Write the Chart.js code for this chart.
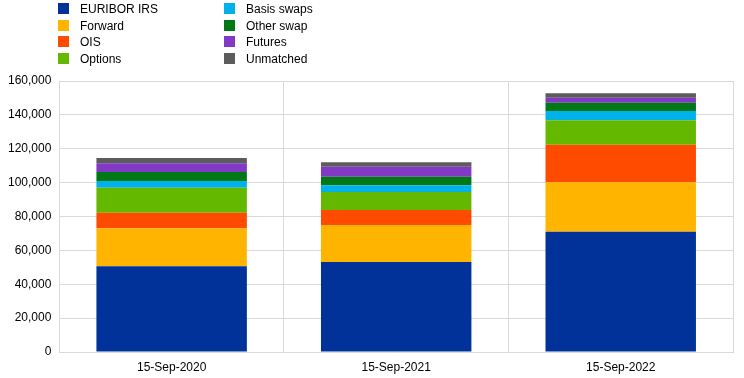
<!DOCTYPE html>
<html><head><meta charset="utf-8">
<script src="https://cdn.jsdelivr.net/npm/chart.js@4"></script>
<style>
html,body{margin:0;padding:0;background:#fff;}
#wrap{position:relative;width:744px;height:378px;font-family:"Liberation Sans",Arial,sans-serif;}
#legend{position:absolute;left:58px;top:1px;font-size:12px;color:#000;}
.li{position:absolute;white-space:nowrap;height:16px;line-height:16px;}
.li span.b{position:absolute;left:0;top:2px;width:11px;height:11px;}
.li span.t{position:absolute;left:22px;top:0;}
canvas{position:absolute;left:0;top:0;}
</style></head>
<body><div id="wrap"><canvas id="c" width="744" height="378"></canvas><div id="legend"></div></div>
<script>
const categories = ["15-Sep-2020","15-Sep-2021","15-Sep-2022"];
const seriesNames = ["EURIBOR IRS","Forward","OIS","Options","Basis swaps","Other swap","Futures","Unmatched"];
const euribor = [50600, 53100, 71000];
const forward = [22400, 21900, 29200];
const ois = [9200, 8800, 22200];
const options = [14800, 10700, 14400];
const basis = [3900, 3900, 5500];
const other = [5400, 5100, 4900];
const futures = [5100, 5900, 2900];
const unmatched = [3100, 2600, 2600];
const yTicks = [0,20000,40000,60000,80000,100000,120000,140000,160000];
const colors = ["#003299","#FFB400","#FF4B00","#65B800","#00B1EA","#007816","#8139C6","#5C5C5C"];
const values = [euribor, forward, ois, options, basis, other, futures, unmatched];

const lg = document.getElementById('legend');
seriesNames.forEach((n,i)=>{
  const col = i<4?0:1, row = i%4;
  const d = document.createElement('div');
  d.className='li';
  d.style.left=(col*166)+'px';
  d.style.top=(row*16.7)+'px';
  d.innerHTML='<span class="b" style="background:'+colors[i]+'"></span><span class="t">'+n+'</span>';
  lg.appendChild(d);
});

new Chart(document.getElementById('c'), {
  type:'bar',
  data:{labels:categories, datasets: seriesNames.map((n,i)=>({label:n,data:values[i],backgroundColor:colors[i],borderWidth:0,barPercentage:0.67,categoryPercentage:1}))},
  options:{
    responsive:false, animation:false,
    layout:{padding:{top:81,right:11,left:0,bottom:0}},
    plugins:{legend:{display:false},tooltip:{enabled:false}},
    font:{family:"Liberation Sans"},
    scales:{
      x:{stacked:true,grid:{color:'#d9d9d9',offset:true,drawTicks:false},border:{color:'#d9d9d9'},
         afterFit:(ax)=>{ax.height=26;},
         ticks:{color:'#000',font:{family:"Liberation Sans",size:12},padding:8}},
      y:{stacked:true,min:0,max:160000,
         afterBuildTicks:(ax)=>{ax.ticks=yTicks.map(v=>({value:v}));},
         grid:{color:'#d9d9d9',drawTicks:false},border:{color:'#d9d9d9'},
         ticks:{color:'#000',font:{family:"Liberation Sans",size:12},padding:8,
           callback:(v)=>v.toLocaleString('en-US')}}
    }
  }
});
</script></body></html>
